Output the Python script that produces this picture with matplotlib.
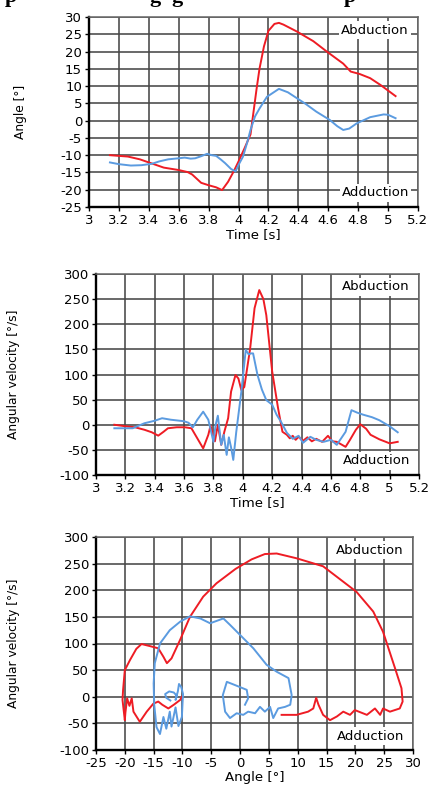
import matplotlib
matplotlib.use("Agg")
import matplotlib.pyplot as plt
import numpy as np
from matplotlib.ticker import FixedLocator, FuncFormatter

plt.rcParams['font.family'] = ['DejaVu Sans']
plt.rcParams['axes.unicode_minus'] = False

# ---------------- data ----------------
# Panel 1: angle vs time
t_red_ang = [3.14, 3.26, 3.34, 3.42, 3.50, 3.60, 3.66, 3.69, 3.72, 3.75, 3.80, 3.85, 3.89,
             3.93, 3.97, 4.00, 4.04, 4.08, 4.10, 4.12, 4.14, 4.17, 4.20, 4.24, 4.27, 4.30,
             4.39, 4.50, 4.59, 4.70, 4.75, 4.81, 4.88, 4.95, 5.05]
red_ang = [-10.0, -10.4, -11.2, -12.4, -13.6, -14.3, -14.9, -15.6, -16.8, -18.0, -18.7, -19.3, -20.1,
           -17.7, -14.5, -11.8, -8.0, -4.0, 2.5, 9.0, 15.0, 21.5, 26.0, 28.0, 28.3, 27.8,
           25.8, 23.0, 20.0, 16.5, 14.2, 13.5, 12.3, 10.3, 7.1]

t_blue_ang = [3.14, 3.20, 3.28, 3.35, 3.42, 3.47, 3.53, 3.60, 3.64, 3.68, 3.71, 3.75, 3.79,
              3.82, 3.85, 3.88, 3.91, 3.95, 3.98, 4.00, 4.03, 4.06, 4.08, 4.11, 4.14, 4.19,
              4.27, 4.33, 4.39, 4.45, 4.52, 4.61, 4.66, 4.70, 4.74, 4.79, 4.88, 4.97, 5.00, 5.05]
blue_ang = [-12.1, -12.6, -13.0, -12.9, -12.5, -11.8, -11.2, -10.9, -10.7, -11.0, -10.9, -10.3, -9.6,
            -10.0, -10.2, -11.2, -12.3, -14.0, -14.7, -12.8, -10.4, -6.0, -2.7, 1.2, 3.5, 6.9,
            9.2, 8.2, 6.5, 4.8, 2.6, 0.2, -1.6, -2.7, -2.3, -0.8, 1.0, 1.8, 1.7, 0.7]

# Panel 2: angular velocity vs time
t_red_vel = [3.125, 3.20, 3.265, 3.33, 3.38, 3.424, 3.46, 3.49, 3.55, 3.605, 3.65, 3.69, 3.73,
             3.765, 3.78, 3.81, 3.83, 3.853, 3.875, 3.90, 3.92, 3.95, 3.97, 3.99, 4.01, 4.05,
             4.08, 4.112, 4.14, 4.16, 4.20, 4.24, 4.27, 4.30, 4.32, 4.34, 4.36, 4.38, 4.41,
             4.44, 4.47, 4.50, 4.54, 4.58, 4.61, 4.64, 4.70, 4.73, 4.77, 4.80, 4.84, 4.87,
             4.93, 5.00, 5.055]
red_vel = [0, -3, -5, -10, -15, -21.7, -14, -7, -5, -5, -7, -27, -47,
           -20, -2, -33, 0, -40, -13, 13, 66, 99, 92, 69, 75, 152,
           232, 268, 250, 218, 106, 33, -14, -20, -27, -22, -30, -24, -32,
           -25, -33, -28, -34, -22, -33, -34, -44, -30, -10, 1, -8, -20,
           -29, -37, -34]

t_blue_vel = [3.125, 3.25, 3.33, 3.40, 3.45, 3.51, 3.60, 3.63, 3.66, 3.69, 3.73, 3.765, 3.80,
              3.815, 3.83, 3.853, 3.87, 3.89, 3.905, 3.92, 3.935, 3.955, 3.99, 4.02, 4.04,
              4.055, 4.07, 4.10, 4.13, 4.16, 4.20, 4.23, 4.26, 4.30, 4.34, 4.38, 4.41, 4.46,
              4.50, 4.55, 4.60, 4.64, 4.70, 4.74, 4.78, 4.82, 4.88, 4.93, 5.00, 5.055]
blue_vel = [-7, -7, 3, 8, 13, 10, 7, 4, -5, 10, 26, 10, -34,
            0, 18, -40, -20, -60, -25, -45, -70, -15, 66, 149, 140,
            142, 142, 99, 70, 49, 40, 20, 6, -16, -28, -22, -36, -24,
            -30, -34, -30, -40, -14, 29, 24, 20, 15, 9, -3, -15]

# Panel 3: angular velocity vs angle (phase plot)
red_ph_ang = [-10.1, -10.4, -11.5, -12.45, -13.5, -14.2, -15.05, -16.2, -17.4, -18.5, -18.8, -19.2,
              -19.6, -19.9, -20.0, -20.4, -20.3, -20.0, -19.1, -18.0, -17.1, -15.6, -14.2, -13.3,
              -12.7, -11.9, -10.4, -8.7, -6.4, -4.1, -0.8, 2.0, 4.3, 6.35, 9.8, 14.4, 20.2, 23.1,
              24.8, 26.9, 28.0, 28.2, 27.7, 26.0, 24.8, 24.3, 23.4, 22.0, 19.9, 19.07, 17.9,
              16.8, 15.6, 14.4, 13.6, 13.2, 12.7, 11.8, 9.8, 7.2]
red_ph_vel = [0, -6, -15, -22, -15, -9, -13, -28, -47, -28, -3, -17,
              -3, -30, -44, -6, 13, 50, 69, 90, 99, 95, 91, 75,
              63, 72, 107, 150, 188, 213, 240, 258, 268, 269, 260, 245, 197, 160,
              122, 53, 16, -9, -22, -28, -22, -34, -22, -34, -25, -34, -28,
              -37, -44, -34, -15, -2, -22, -28, -34, -34]

blue_ph_ang = [-12.1, -12.8, -13.0, -12.3, -11.5, -11.0, -11.2, -10.8, -10.6, -10.2, -9.9, -10.0,
               -10.1, -10.7, -11.2, -11.9, -12.2, -12.8, -13.3, -13.9, -14.5, -14.9, -15.0, -14.8,
               -13.9, -12.2, -10.4, -8.7, -6.9, -5.2, -2.9, -1.75, 0.0, 2.3, 4.6, 6.35, 8.4, 8.95,
               8.7, 7.8, 6.6, 5.75, 5.2, 4.3, 3.45, 2.6, 1.4, 0.55, -0.6, -1.75, -2.6, -3.0, -2.3,
               -0.9, 1.15, 1.4, 0.85]
blue_ph_vel = [-7, -2, 5, 10, 8, 2, -6, 10, 24, 18, 5, -15,
               -38, -55, -20, -56, -28, -60, -38, -70, -57, -15, 25, 63,
               100, 125, 141, 151, 147, 138, 147, 135, 116, 91, 60, 47, 35, 3,
               -15, -19, -22, -40, -19, -28, -19, -31, -28, -34, -31, -40, -28, 3, 28,
               22, 13, -3, -15]

# ---------------- styling ----------------
RED = '#EE1C24'
BLUE = '#5B9BE0'
W, H = 433, 798

fig = plt.figure(figsize=(W / 100, H / 100), dpi=100)


def px_axes(left, top, right, bottom):
    return fig.add_axes([left / W, 1 - bottom / H, (right - left) / W, (bottom - top) / H])


def fmt(v, pos):
    return f"{round(v, 2):g}"


def style(ax, xticks, yticks, xlabel, ylabel, ylab_x):
    ax.set_xlim(xticks[0], xticks[-1])
    ax.set_ylim(yticks[0], yticks[-1])
    ax.xaxis.set_major_locator(FixedLocator(xticks))
    ax.yaxis.set_major_locator(FixedLocator(yticks))
    ax.xaxis.set_major_formatter(FuncFormatter(fmt))
    ax.yaxis.set_major_formatter(FuncFormatter(fmt))
    ax.grid(True, color='#474747', linewidth=1.15)
    ax.set_axisbelow(True)
    for s in ['top', 'right']:
        ax.spines[s].set_color('#666666')
        ax.spines[s].set_linewidth(1.1)
    for s in ['left', 'bottom']:
        ax.spines[s].set_color('black')
        ax.spines[s].set_linewidth(1.7)
    ax.tick_params(direction='out', length=3, width=1, labelsize=9.5, pad=2,
                   colors='black')
    ax.set_xlabel(xlabel, fontsize=9.6, labelpad=1)
    ax.set_ylabel(ylabel, fontsize=8.8)
    ax.yaxis.set_label_coords(ylab_x, 0.5)
    box = dict(facecolor='white', edgecolor='none', pad=1.5)
    ax.annotate('Abduction', xy=(1, 1), xycoords='axes fraction', xytext=(-9, -13),
                textcoords='offset pixels', ha='right', va='center', fontsize=9.5, bbox=box)
    ax.annotate('Adduction', xy=(1, 0), xycoords='axes fraction', xytext=(-9, 14),
                textcoords='offset pixels', ha='right', va='center', fontsize=9.5, bbox=box)


time_ticks = list(np.round(np.arange(3.0, 5.21, 0.2), 1))

ax1 = px_axes(89, 17, 418, 207)
ax1.plot(t_red_ang, red_ang, color=RED, lw=1.4)
ax1.plot(t_blue_ang, blue_ang, color=BLUE, lw=1.4)
style(ax1, time_ticks, list(range(-25, 31, 5)), 'Time [s]', 'Angle [°]', (27 - 89) / 329)

ax2 = px_axes(96, 274, 419, 475)
ax2.plot(t_red_vel, red_vel, color=RED, lw=1.4)
ax2.plot(t_blue_vel, blue_vel, color=BLUE, lw=1.4)
style(ax2, time_ticks, list(range(-100, 301, 50)), 'Time [s]', 'Angular velocity [°/s]',
      (20 - 96) / 323)

ax3 = px_axes(96, 537, 413, 750)
ax3.plot(red_ph_ang, red_ph_vel, color=RED, lw=1.4)
ax3.plot(blue_ph_ang, blue_ph_vel, color=BLUE, lw=1.4)
style(ax3, list(range(-25, 31, 5)), list(range(-100, 301, 50)), 'Angle [°]',
      'Angular velocity [°/s]', (20 - 96) / 317)

# cropped title line at the very top of the reference (only descenders visible)
for ch, xc in [('p', 11), ('g', 155), ('g', 177), ('p', 350)]:
    fig.text(xc / W, 1 - 2 / H, ch, ha='center', va='baseline', fontsize=16,
             fontweight='bold', family='Liberation Serif')

fig.savefig('out.png', dpi=100)
